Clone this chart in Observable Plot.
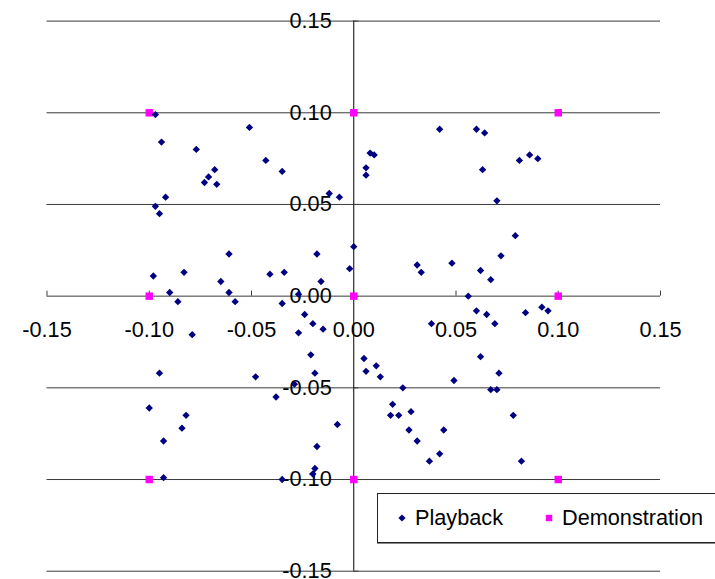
<!DOCTYPE html>
<html>
<head>
<meta charset="utf-8">
<script src="https://cdn.jsdelivr.net/npm/d3@7"></script>
<script src="https://cdn.jsdelivr.net/npm/@observablehq/plot@0.6"></script>
<style>
  html, body { margin: 0; padding: 0; background: #fff; }
  #wrap { position: relative; width: 715px; height: 579px; overflow: hidden; font-family: "Liberation Sans", Arial, sans-serif; }
  #legend { position: absolute; left: 377px; top: 493px; width: 345px; height: 50px; border: 1px solid #222; box-shadow: 0 1px 0 #888; background: #fff; box-sizing: border-box; font-size: 21.7px; color: #000; }
  .item { position: absolute; top: 0; height: 48px; display: flex; align-items: center; white-space: nowrap; }
  .item svg { margin-right: 8px; }
</style>
</head>
<body>
<div id="wrap"></div>
<script>
// Series: Playback
const playbackX = [
  -0.097,-0.094,-0.077,-0.051,-0.043,-0.035,-0.068,-0.071,-0.073,-0.067,
  -0.092,-0.097,-0.095,-0.012,-0.007, 0.000,-0.061,-0.018,-0.002,-0.098,
  -0.083,-0.041,-0.034,-0.065,-0.016,-0.090,-0.061,-0.086,-0.058,-0.035,
  -0.027,-0.024,-0.020,-0.015,-0.027,-0.079,-0.021,-0.095,-0.048,-0.019,
  -0.029,-0.038,-0.100,-0.082,-0.084,-0.008,-0.093,-0.018,-0.019,-0.020,
  -0.093,-0.035, 0.042, 0.060, 0.064, 0.008, 0.010, 0.006, 0.006, 0.063,
   0.081, 0.086, 0.090, 0.070, 0.079, 0.072, 0.031, 0.033, 0.048, 0.062,
   0.067, 0.056, 0.060, 0.065, 0.069, 0.084, 0.092, 0.095, 0.038, 0.005,
   0.006, 0.011, 0.013, 0.062, 0.071, 0.024, 0.049, 0.067, 0.070, 0.019,
   0.018, 0.022, 0.028, 0.078, 0.027, 0.044, 0.031, 0.037, 0.042, 0.082
];
const playbackY = [
   0.099, 0.084, 0.080, 0.092, 0.074, 0.068, 0.069, 0.065, 0.062, 0.061,
   0.054, 0.049, 0.045, 0.056, 0.054, 0.027, 0.023, 0.023, 0.015, 0.011,
   0.013, 0.012, 0.013, 0.008, 0.008, 0.002, 0.002,-0.003,-0.003,-0.004,
   0.001,-0.010,-0.015,-0.018,-0.020,-0.021,-0.032,-0.042,-0.044,-0.042,
  -0.048,-0.055,-0.061,-0.065,-0.072,-0.070,-0.079,-0.082,-0.094,-0.097,
  -0.099,-0.100, 0.091, 0.091, 0.089, 0.078, 0.077, 0.070, 0.066, 0.069,
   0.074, 0.077, 0.075, 0.052, 0.033, 0.022, 0.017, 0.013, 0.018, 0.014,
   0.009, 0.000,-0.008,-0.010,-0.015,-0.009,-0.006,-0.008,-0.015,-0.034,
  -0.041,-0.038,-0.044,-0.033,-0.042,-0.050,-0.046,-0.051,-0.051,-0.059,
  -0.065,-0.065,-0.063,-0.065,-0.073,-0.073,-0.079,-0.090,-0.086,-0.090
];
// Series: Demonstration
const demoX = [-0.10, 0.00, 0.10, -0.10, 0.00, 0.10, -0.10, 0.00, 0.10];
const demoY = [ 0.10, 0.10, 0.10,  0.00, 0.00, 0.00, -0.10, -0.10, -0.10];
// Axis ticks
const xTicks = [-0.15, -0.10, -0.05, 0.00, 0.05, 0.10, 0.15];
const xTickLabels = ["-0.15", "-0.10", "-0.05", "0.00", "0.05", "0.10", "0.15"];
const yTicks = [-0.15, -0.10, -0.05, 0.00, 0.05, 0.10, 0.15];
const yTickLabels = ["-0.15", "-0.10", "-0.05", "0.00", "0.05", "0.10", "0.15"];
const seriesNames = ["Playback", "Demonstration"];
const seriesColors = ["#000080", "#FF00FF"];

const playback = playbackX.map((x, i) => ({x, y: playbackY[i]}));
const demo = demoX.map((x, i) => ({x, y: demoY[i]}));

const chart = Plot.plot({
  width: 715,
  height: 579,
  marginLeft: 46.5,
  marginRight: 55,
  marginTop: 20.6,
  marginBottom: 8.3,
  x: {domain: [-0.15, 0.15], axis: null},
  y: {domain: [-0.15, 0.15], axis: null},
  style: {fontFamily: "'Liberation Sans', Arial, sans-serif", background: "#fff", overflow: "visible"},
  marks: [
    // horizontal gridlines
    Plot.ruleY(yTicks, {y: d => d, stroke: "#3a3a3a", strokeWidth: 1}),
    // vertical axis line at x = 0
    Plot.ruleX([0], {x: d => d, stroke: "#000", strokeWidth: 1}),
    // x-axis tick marks (pointing up)
    Plot.ruleX(xTicks, {x: d => d, y1: 0, y2: 0, insetBottom: 5, stroke: "#3a3a3a"}),
    // y-axis tick marks (pointing right)
    Plot.ruleY(yTicks, {y: d => d, x1: 0, x2: 0, insetRight: -5, stroke: "#3a3a3a"}),
    // tick labels
    Plot.text(xTicks, {x: d => d, y: 0, text: (d, i) => xTickLabels[i], dy: 33.5, fontSize: 21.7, fill: "#000"}),
    Plot.text(yTicks, {x: 0, y: d => d, text: (d, i) => yTickLabels[i], dx: -22, textAnchor: "end", fontSize: 21.7, fill: "#000"}),
    // series
    Plot.dot(demo, {x: "x", y: "y", symbol: "square", r: 4.2, fill: seriesColors[1], stroke: "none"}),
    Plot.dot(playback, {x: "x", y: "y", symbol: "diamond2", r: 3.3, fill: seriesColors[0], stroke: "none"})
  ]
});

const wrap = document.getElementById("wrap");
wrap.appendChild(chart);

// legend
const legend = document.createElement("div");
legend.id = "legend";
legend.innerHTML = `
  <div class="item" style="left:19px">
    <svg width="10" height="10" viewBox="-5 -5 10 10"><path d="M0,-3.6L3.6,0L0,3.6L-3.6,0Z" fill="${seriesColors[0]}"/></svg>
    <span>${seriesNames[0]}</span>
  </div>
  <div class="item" style="left:166px">
    <svg width="10" height="10" viewBox="-5 -5 10 10"><rect x="-3.2" y="-3.2" width="6.4" height="6.4" fill="${seriesColors[1]}"/></svg>
    <span>${seriesNames[1]}</span>
  </div>`;
wrap.appendChild(legend);
</script>
</body>
</html>
